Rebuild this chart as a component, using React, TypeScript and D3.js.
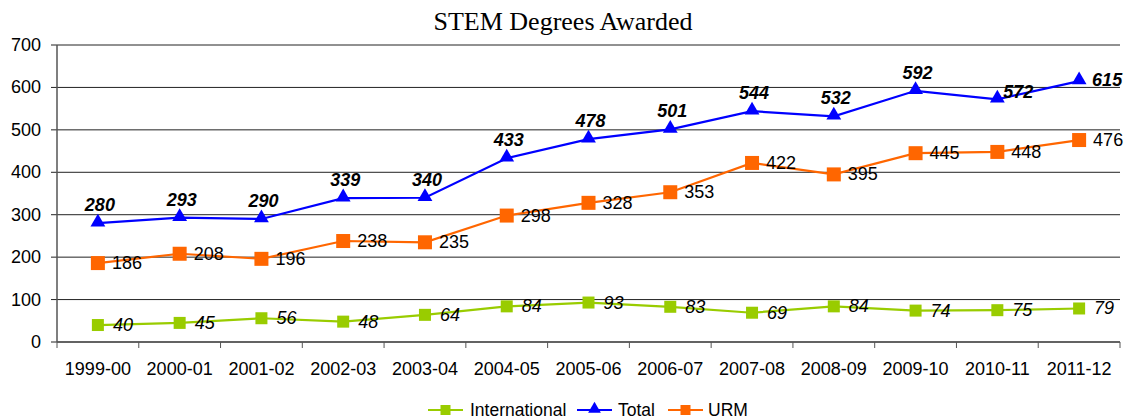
import React from 'react';
import * as d3 from 'd3';

const categories = ['1999-00','2000-01','2001-02','2002-03','2003-04','2004-05','2005-06','2006-07','2007-08','2008-09','2009-10','2010-11','2011-12'];
const international = [40,45,56,48,64,84,93,83,69,84,74,75,79];
const total = [280,293,290,339,340,433,478,501,544,532,592,572,615];
const urm = [186,208,196,238,235,298,328,353,422,395,445,448,476];
const totalLabelPlacement = ['above','above','above','above','above','above','above','above','above','above','above','right-up','right'];
const yTicks = [0,100,200,300,400,500,600,700];

const W = 1125, H = 420;
const left = 57, right = 1120, top = 45, bottom = 342;
const FONT = 'Liberation Sans, Arial, sans-serif';

export default function App() {
  const x = d3.scaleBand<string>().domain(categories).range([left, right]);
  const y = d3.scaleLinear().domain([0, 700]).range([bottom, top]);
  const cx = (c: string) => (x(c) as number) + x.bandwidth() / 2;
  const line = d3.line<number>().x((_, i) => cx(categories[i])).y(v => y(v));
  const tri = d3.symbol().type(d3.symbolTriangle).size(95)();

  const legendItems = [
    { name: 'International', color: '#99CC00', shape: 'square', x0: 428, tx: 470 },
    { name: 'Total', color: '#0000FF', shape: 'tri', x0: 577, tx: 618 },
    { name: 'URM', color: '#FF6600', shape: 'square', x0: 668, tx: 708 },
  ];

  return (
    <svg width={W} height={H} style={{ position: 'absolute', left: 0, top: 0 }}>
      <rect width={W} height={H} fill="#fff" />
      <text x={563} y={30} textAnchor="middle" fontFamily="Liberation Serif, Times New Roman, serif" fontSize={26} fill="#000">STEM Degrees Awarded</text>
      {yTicks.map(t => (
        <g key={t}>
          <line x1={left - 6} x2={right} y1={y(t)} y2={y(t)} stroke="#222" strokeWidth={1} />
          <text x={left - 16} y={y(t) + 6} textAnchor="end" fontFamily={FONT} fontSize={18} fill="#000">{t}</text>
        </g>
      ))}
      <line x1={left} x2={left} y1={top} y2={bottom} stroke="#555" strokeWidth={1.5} />
      <line x1={left} x2={right} y1={bottom} y2={bottom} stroke="#555" strokeWidth={1.5} />
      {categories.map((c, i) => (
        <g key={c}>
          <line x1={(x(c) as number)} x2={(x(c) as number)} y1={bottom} y2={bottom + 6} stroke="#555" />
          {i === categories.length - 1 && <line x1={right} x2={right} y1={bottom} y2={bottom + 6} stroke="#555" />}
          <text x={cx(c)} y={bottom + 33} textAnchor="middle" fontFamily={FONT} fontSize={18} fill="#000">{c}</text>
        </g>
      ))}

      <path d={line(international) || ''} fill="none" stroke="#99CC00" strokeWidth={2.2} />
      <path d={line(urm) || ''} fill="none" stroke="#FF6600" strokeWidth={2.2} />
      <path d={line(total) || ''} fill="none" stroke="#0000FF" strokeWidth={2.2} />

      {international.map((v, i) => (
        <g key={'i' + i}>
          <rect x={cx(categories[i]) - 6} y={y(v) - 6} width={12} height={12} fill="#99CC00" />
          <text x={cx(categories[i]) + 15} y={y(v) + 6} fontFamily={FONT} fontSize={18} fontStyle="italic" fill="#000">{v}</text>
        </g>
      ))}
      {urm.map((v, i) => (
        <g key={'u' + i}>
          <rect x={cx(categories[i]) - 7} y={y(v) - 7} width={14} height={14} fill="#FF6600" />
          <text x={cx(categories[i]) + 14} y={y(v) + 6} fontFamily={FONT} fontSize={18} fill="#000">{v}</text>
        </g>
      ))}
      {total.map((v, i) => {
        const px = cx(categories[i]);
        const py = y(v);
        const p = totalLabelPlacement[i];
        let tx = px + 2, ty = py - 12, anchor: 'middle' | 'start' = 'middle';
        if (p === 'right-up') { tx = px + 6; ty = py - 1; anchor = 'start'; }
        if (p === 'right') { tx = px + 13; ty = py + 5; anchor = 'start'; }
        return (
          <g key={'t' + i}>
            <path d={tri || ''} transform={`translate(${px},${py - 1})`} fill="#0000FF" />
            <text x={tx} y={ty} textAnchor={anchor} fontFamily={FONT} fontSize={18} fontWeight="bold" fontStyle="italic" fill="#000">{v}</text>
          </g>
        );
      })}

      {legendItems.map(it => (
        <g key={it.name}>
          <line x1={it.x0} x2={it.x0 + 35} y1={410} y2={410} stroke={it.color} strokeWidth={2.2} />
          {it.shape === 'square'
            ? <rect x={it.x0 + 17.5 - 5} y={405} width={10} height={10} fill={it.color} />
            : <path d={d3.symbol().type(d3.symbolTriangle).size(70)() || ''} transform={`translate(${it.x0 + 17.5},409)`} fill={it.color} />}
          <text x={it.tx} y={416} fontFamily={FONT} fontSize={17.5} fill="#000">{it.name}</text>
        </g>
      ))}
    </svg>
  );
}
